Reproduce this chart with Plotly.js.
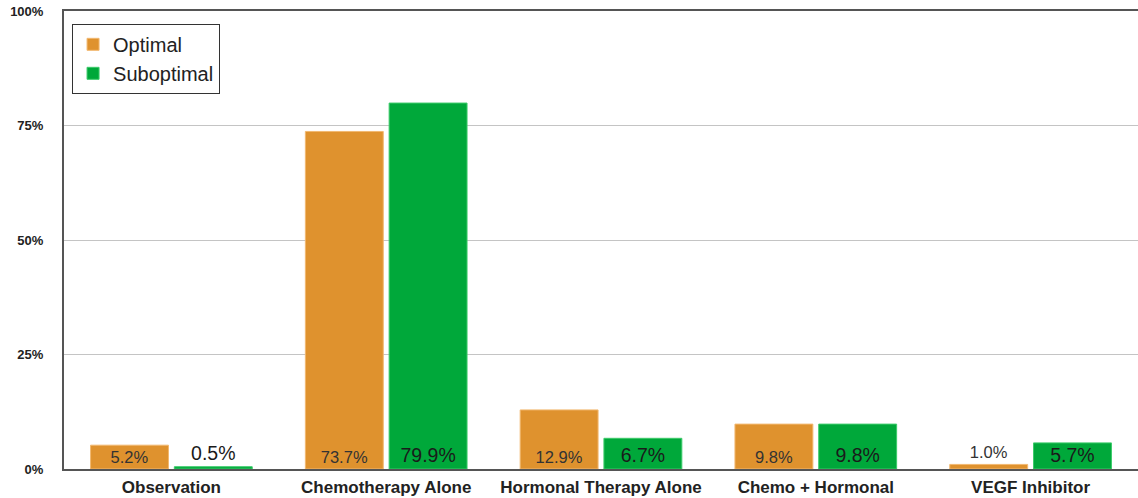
<!DOCTYPE html>
<html>
<head>
<meta charset="utf-8">
<script src="https://cdn.plot.ly/plotly-3.0.1.min.js"></script>
<style>html,body{margin:0;padding:0;background:#fff;}#chart{width:1138px;height:498px;}</style>
</head>
<body>
<div id="chart"></div>
<script>
const categories = ["Observation", "Chemotherapy Alone", "Hormonal Therapy Alone", "Chemo + Hormonal", "VEGF Inhibitor"];
const optimal = [5.2, 73.7, 12.9, 9.8, 1.0];
const suboptimal = [0.5, 79.9, 6.7, 9.8, 5.7];
const optimalLabelPos = ["inside", "inside", "inside", "inside", "outside"];
const suboptimalLabelPos = ["outside", "inside", "inside", "inside", "inside"];
const yTickVals = [0, 25, 50, 75, 100];
const yTickText = ["0%", "25%", "50%", "75%", "100%"];

const fmt = v => v.toFixed(1) + "%";

const traces = [
  {
    type: "bar", name: "Optimal", x: categories, y: optimal,
    text: optimal.map(fmt), textposition: optimalLabelPos, insidetextanchor: "start",
    constraintext: "none", cliponaxis: false,
    textfont: {family: "Liberation Sans, Arial, sans-serif", size: 16.5, color: "#333333"},
    marker: {color: "#DF922E", line: {color: "#F2B870", width: 1}},
    hoverinfo: "none"
  },
  {
    type: "bar", name: "Suboptimal", x: categories, y: suboptimal,
    text: suboptimal.map(fmt), textposition: suboptimalLabelPos, insidetextanchor: "start",
    constraintext: "none", cliponaxis: false,
    textfont: {family: "Liberation Sans, Arial, sans-serif", size: 19.5, color: "#1a1a1a"},
    marker: {color: "#00A83A", line: {color: "#3CCB6A", width: 1}},
    hoverinfo: "none"
  }
];

const layout = {
  width: 1138, height: 498,
  margin: {l: 64, r: 0, t: 11, b: 29},
  paper_bgcolor: "#ffffff", plot_bgcolor: "#ffffff",
  font: {family: "Liberation Sans, Arial, sans-serif", color: "#222"},
  barmode: "group", bargap: 0.22, bargroupgap: 0.07,
  showlegend: true,
  legend: {
    x: 0.0075, y: 0.972, xanchor: "left", yanchor: "top",
    bordercolor: "#333333", borderwidth: 1, bgcolor: "#ffffff",
    font: {size: 20, color: "#222"}, itemwidth: 30, tracegroupgap: 0
  },
  xaxis: {
    type: "category",
    showline: true, linecolor: "#555555", linewidth: 2, mirror: true,
    showgrid: false, ticks: "",
    tickfont: {size: 17, color: "#222", family: "Liberation Sans, Arial, sans-serif", weight: "bold"},
    ticklabelstandoff: 2
  },
  yaxis: {
    range: [0, 100], tickvals: yTickVals, ticktext: yTickText,
    showline: true, linecolor: "#555555", linewidth: 2,
    showgrid: true, gridcolor: "#c4c4c4", gridwidth: 1,
    zeroline: false,
    ticks: "outside", ticklen: 16, tickcolor: "rgba(0,0,0,0)",
    tickfont: {size: 13, color: "#222", family: "Liberation Sans, Arial, sans-serif", weight: "bold"}
  }
};

Plotly.newPlot("chart", traces, layout, {displayModeBar: false, staticPlot: true});
</script>
</body>
</html>
